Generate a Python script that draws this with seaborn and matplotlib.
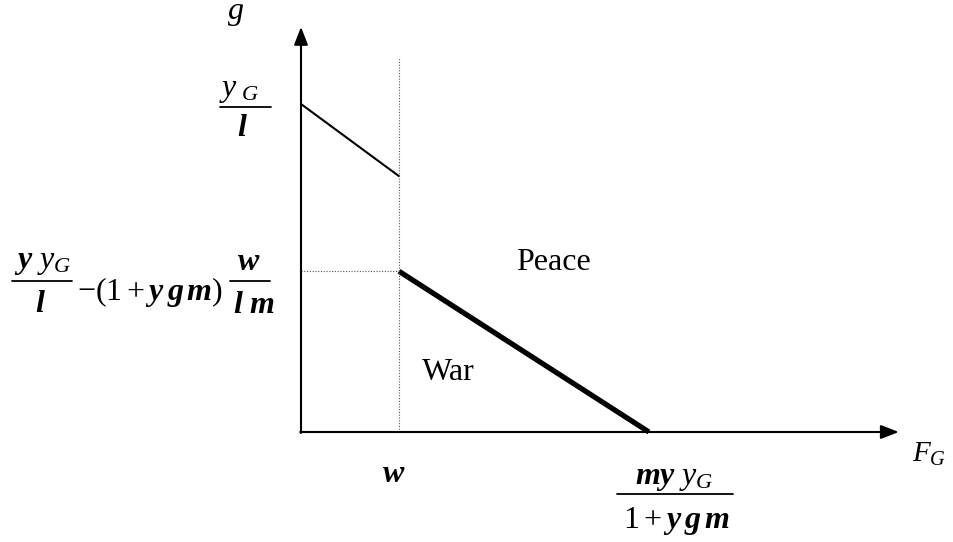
import matplotlib
matplotlib.use("Agg")
import matplotlib.pyplot as plt
from matplotlib.lines import Line2D
import seaborn as sns
import pandas as pd

# values in units of w (x) and of y_G / l (y)
w_x = 1.0
upper_x = [0.0, 1.0]
upper_y = [1.0, 0.78]
war_x = [1.0, 3.55]
war_y = [0.49, 0.0]
dotted_top = 1.14
x_arrow_end = 6.1
y_arrow_end = 1.235

W, H = 954, 542

sns.set_theme(style="white")
plt.rcParams["font.family"] = ["Liberation Serif", "DejaVu Serif"]
plt.rcParams["text.color"] = "black"
plt.rcParams["mathtext.fontset"] = "custom"
plt.rcParams["mathtext.rm"] = "Liberation Serif"
plt.rcParams["mathtext.it"] = "Liberation Serif:italic"
plt.rcParams["mathtext.bf"] = "Liberation Serif:italic:bold"

fig = plt.figure(figsize=(W / 100, H / 100), dpi=100)
ax = fig.add_axes([0, 0, 1, 1])
# origin of the diagram sits at pixel (301, 432); 98 px per w, 328 px per y_G/l
ax.set_xlim(-301 / 98, (W - 301) / 98)
ax.set_ylim(-(H - 432) / 328, 432 / 328)
ax.axis("off")

upper = pd.DataFrame({"x": upper_x, "y": upper_y})
war = pd.DataFrame({"x": war_x, "y": war_y})
sns.lineplot(data=upper, x="x", y="y", color="black", lw=1.5, ax=ax)
sns.lineplot(data=war, x="x", y="y", color="black", lw=3.8, ax=ax,
             solid_capstyle="butt")

# dotted guides
ax.plot([w_x, w_x], [0, dotted_top], color="#555555", lw=0.8, ls=(0, (1, 1.5)))
ax.plot([0, w_x], [war_y[0], war_y[0]], color="#555555", lw=0.8, ls=(0, (1, 1.5)))

# axes with arrow heads
arrow = dict(arrowstyle="-|>,head_length=0.9,head_width=0.35", color="black",
             lw=1.5, shrinkA=0, shrinkB=0)
ax.annotate("", xy=(x_arrow_end, 0), xytext=(-0.008, 0), arrowprops=arrow)
ax.annotate("", xy=(0, y_arrow_end), xytext=(0, -0.003), arrowprops=arrow)


def label(x, y, s, size=23, ha="center"):
    fig.text(x / W, 1 - y / H, s, fontsize=size, ha=ha, va="baseline",
             color="black")


def frac_bar(x0, x1, y):
    fig.add_artist(Line2D([x0 / W, x1 / W], [1 - y / H, 1 - y / H],
                          transform=fig.transFigure, color="black", lw=1.3))


# axis titles
label(236, 19, r"$g$")
label(912, 462, r"$F_G$", size=21, ha="left")

# y_G / l
label(239, 96, r"$y_{\ G}$")
frac_bar(220, 271, 107)
label(242, 136, r"$\mathbf{l}$")

# threshold on the vertical axis
label(42, 268, r"$\mathbf{y}\ y_G$")
frac_bar(12, 72, 281)
label(40, 312, r"$\mathbf{l}$")
label(77, 300, r"$-(1+\mathbf{y\,g\,m})$", ha="left")
label(249, 270, r"$\mathbf{w}$")
frac_bar(230, 270, 281)
label(254, 313, r"$\mathbf{l\ m}$")

# regions
label(553, 270, "Peace")
label(448, 380, "War")

# horizontal axis marks
label(394, 482, r"$\mathbf{w}$")
label(674, 484, r"$\mathbf{my}\ y_G$")
frac_bar(617, 733, 494)
label(676, 528, r"$1+\mathbf{y\,g\,m}$")

fig.savefig("out.png", dpi=100, facecolor="white")
